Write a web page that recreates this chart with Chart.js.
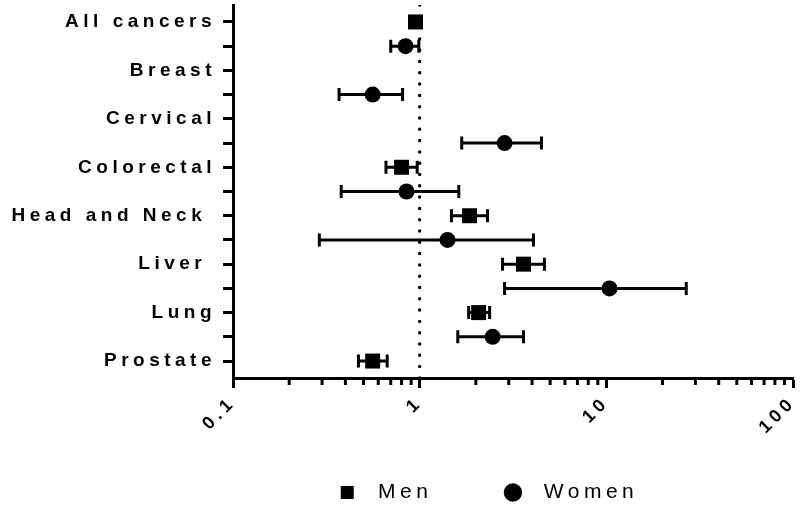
<!DOCTYPE html>
<html>
<head>
<meta charset="utf-8">
<script src="https://cdn.jsdelivr.net/npm/chart.js@4/dist/chart.umd.min.js"></script>
<style>
  body { margin: 0; background: #fff; }
  #wrap { width: 800px; height: 523px; }
</style>
</head>
<body>
<div id="wrap"><canvas id="chart"></canvas></div>
<script>
// odds ratios (null = no estimate shown)
const categories = ['All cancers', 'Breast', 'Cervical', 'Colorectal', 'Head and Neck ', 'Liver ', 'Lung', 'Prostate'];
const menOR  = [0.95, null, null, 0.80, 1.85, 3.60, 2.07, 0.56];
const menLo  = [0.93, null, null, 0.66, 1.48, 2.78, 1.83, 0.47];
const menHi  = [0.98, null, null, 0.97, 2.31, 4.66, 2.37, 0.67];
const womenOR = [0.84, 0.56, 2.85, 0.85, 1.41, 10.4, 2.46, null];
const womenLo = [0.70, 0.37, 1.68, 0.38, 0.29, 2.85, 1.60, null];
const womenHi = [0.99, 0.81, 4.49, 1.62, 4.07, 26.8, 3.60, null];
const xMajorTicks = [0.1, 1, 10, 100];
const xMinorTicks = [0.2, 0.3, 0.4, 0.5, 0.6, 0.7, 0.8, 0.9, 2, 3, 4, 5, 6, 7, 8, 9, 20, 30, 40, 50, 60, 70, 80, 90];
const rowCount = 15;

const FONT = "'Liberation Sans', Arial, Helvetica, sans-serif";

function build(or, lo, hi, offset) {
  const pts = [], los = [], his = [];
  or.forEach((v, i) => {
    if (v == null) return;
    pts.push({ x: v, y: i * 2 + offset });
    los.push(lo[i]);
    his.push(hi[i]);
  });
  return { pts, los, his };
}
const men = build(menOR, menLo, menHi, 0);
const women = build(womenOR, womenLo, womenHi, 1);

const spacing = {
  id: 'spacing',
  beforeUpdate(chart) { chart.ctx.letterSpacing = '4.5px'; },
  beforeDraw(chart) { chart.ctx.letterSpacing = '4.5px'; }
};

const errorBars = {
  id: 'errorBars',
  beforeDatasetsDraw(chart) {
    const { ctx, scales: { x, y } } = chart;
    ctx.save();
    ctx.strokeStyle = '#000';
    ctx.lineWidth = 3;
    chart.data.datasets.forEach(ds => {
      if (!ds.lo) return;
      ds.data.forEach((p, i) => {
        const x1 = x.getPixelForValue(ds.lo[i]);
        const x2 = x.getPixelForValue(ds.hi[i]);
        const py = y.getPixelForValue(p.y);
        ctx.beginPath();
        ctx.moveTo(x1, py); ctx.lineTo(x2, py);
        ctx.moveTo(x1, py - 6.5); ctx.lineTo(x1, py + 6.5);
        ctx.moveTo(x2, py - 6.5); ctx.lineTo(x2, py + 6.5);
        ctx.stroke();
      });
    });
    ctx.restore();
  }
};

const minorTicks = {
  id: 'minorTicks',
  afterDraw(chart) {
    const { ctx, scales: { x } } = chart;
    ctx.save();
    ctx.strokeStyle = '#000';
    ctx.lineWidth = 3;
    xMinorTicks.forEach(v => {
      const px = x.getPixelForValue(v);
      ctx.beginPath();
      ctx.moveTo(px, x.top);
      ctx.lineTo(px, x.top + 7);
      ctx.stroke();
    });
    ctx.restore();
  }
};

// blank legend entry used only to widen the gap between items
const spacer = { text: '', fillStyle: 'rgba(0,0,0,0)', strokeStyle: 'rgba(0,0,0,0)', lineWidth: 0, pointStyle: 'circle', hidden: false, datasetIndex: -1 };

new Chart(document.getElementById('chart'), {
  type: 'scatter',
  data: {
    datasets: [
      {
        label: 'Men',
        data: men.pts, lo: men.los, hi: men.his,
        pointStyle: 'rect', pointRadius: 10.6, pointHoverRadius: 10.6,
        backgroundColor: '#000', borderColor: '#000', borderWidth: 0
      },
      {
        label: 'Women',
        data: women.pts, lo: women.los, hi: women.his,
        pointStyle: 'circle', pointRadius: 8, pointHoverRadius: 8,
        backgroundColor: '#000', borderColor: '#000', borderWidth: 0
      },
      {
        label: 'ref',
        type: 'line',
        data: [{ x: 1, y: -0.7 }, { x: 1, y: rowCount - 0.3 }],
        borderColor: '#000', borderWidth: 3.5,
        borderDash: [0, 11.3], borderCapStyle: 'round',
        pointRadius: 0, fill: false
      }
    ]
  },
  options: {
    responsive: true,
    maintainAspectRatio: false,
    animation: false,
    layout: { autoPadding: false, padding: { top: 5, right: 7, left: 0, bottom: 10 } },
    plugins: {
      tooltip: { enabled: false },
      legend: {
        position: 'bottom',
        fullSize: false,
        labels: {
          usePointStyle: true,
          boxHeight: 13,
          boxWidth: 20,
          padding: 20,
          color: '#000',
          font: { family: FONT, size: 21 },
          generateLabels: chart => {
            const items = Chart.defaults.plugins.legend.labels.generateLabels(chart)
              .filter(item => item.text !== 'ref')
              .map(item => Object.assign(item, { text: ' ' + item.text }));
            return [items[0], { ...spacer }, items[1], { ...spacer }];
          }
        }
      }
    },
    scales: {
      x: {
        type: 'logarithmic',
        min: 0.1,
        max: 100,
        afterBuildTicks: scale => { scale.ticks = xMajorTicks.map(v => ({ value: v, major: true })); },
        afterFit: scale => { scale.height = 84; scale.paddingRight = 0; },
        border: { display: true, color: '#000', width: 3 },
        grid: { drawOnChartArea: false, drawTicks: true, tickLength: 10, tickWidth: 3, tickColor: '#000' },
        ticks: {
          color: '#000',
          font: { family: FONT, size: 18, weight: 'bold' },
          minRotation: 45, maxRotation: 45,
          padding: 4,
          callback: v => String(v)
        }
      },
      y: {
        type: 'linear',
        reverse: true,
        min: -0.7,
        max: rowCount - 0.3,
        afterBuildTicks: scale => {
          const t = [];
          for (let i = 0; i < rowCount; i++) t.push({ value: i });
          scale.ticks = t;
        },
        afterFit: scale => { scale.width = 233; scale.paddingTop = 0; scale.paddingBottom = 0; },
        border: { display: true, color: '#000', width: 3 },
        grid: { drawOnChartArea: false, drawTicks: true, tickLength: 10, tickWidth: 3, tickColor: '#000' },
        ticks: {
          color: '#000',
          font: { family: FONT, size: 19, weight: 'bold' },
          padding: 7,
          autoSkip: false,
          callback: v => (v % 2 === 0 ? categories[v / 2] : '')
        }
      }
    }
  },
  plugins: [spacing, errorBars, minorTicks]
});
</script>
</body>
</html>
